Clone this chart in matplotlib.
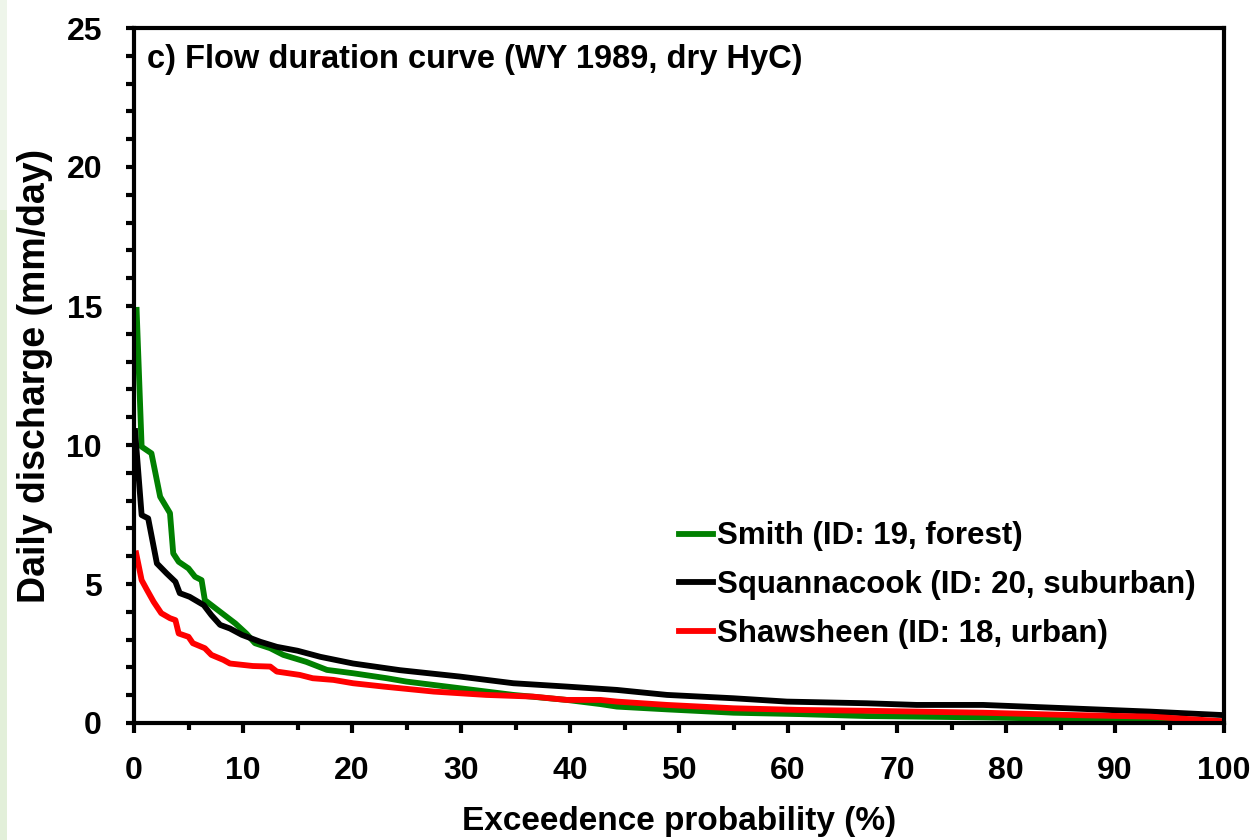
import matplotlib
matplotlib.use("Agg")
import matplotlib.pyplot as plt
from matplotlib.ticker import MultipleLocator
from matplotlib.patches import Rectangle

# Exceedance probability (%) and daily discharge (mm/day)
smith_x = [0.24, 0.7, 1.6, 2.4, 3.3, 3.6, 4.1, 5.0, 5.6, 6.2, 6.5, 7.3, 8.3, 9.3, 10.3, 11.1,
           12.5, 13.7, 15.8, 17.7, 20.1, 23.2, 25.0, 29.9, 34.8, 39.7, 42.8, 44.3, 48.9, 55.0,
           61.1, 67.2, 71.8, 78.0, 85.0, 93.0, 100.0]
smith_y = [14.86, 9.94, 9.7, 8.14, 7.55, 6.1, 5.8, 5.56, 5.26, 5.14, 4.42, 4.18, 3.88, 3.58, 3.22, 2.87,
           2.69, 2.45, 2.2, 1.91, 1.79, 1.61, 1.49, 1.25, 1.01, 0.83, 0.68, 0.59, 0.49, 0.37,
           0.32, 0.25, 0.23, 0.2, 0.15, 0.1, 0.05]

squan_x = [0.1, 0.7, 1.3, 2.1, 3.0, 3.8, 4.2, 5.1, 6.4, 7.1, 7.9, 8.8, 9.9, 11.6, 13.1, 15.0,
           17.1, 20.1, 24.4, 29.9, 34.8, 39.7, 44.3, 48.9, 55.0, 59.9, 67.2, 71.8, 77.9, 85.6,
           93.2, 99.6]
squan_y = [10.5, 7.48, 7.36, 5.74, 5.38, 5.08, 4.67, 4.54, 4.24, 3.88, 3.53, 3.4, 3.17, 2.92, 2.74, 2.6,
           2.38, 2.14, 1.9, 1.67, 1.43, 1.31, 1.19, 1.01, 0.89, 0.77, 0.71, 0.65, 0.65, 0.53,
           0.41, 0.29]

shaw_x = [0.2, 0.7, 1.2, 1.8, 2.5, 3.3, 3.8, 4.1, 5.0, 5.4, 6.5, 7.1, 8.2, 8.8, 10.9, 12.5,
          13.1, 15.2, 16.4, 18.3, 20.1, 22.9, 27.5, 32.3, 36.6, 39.7, 42.8, 44.3, 48.9, 55.0,
          61.1, 67.2, 71.8, 77.9, 85.6, 93.2, 99.6]
shaw_y = [6.1, 5.14, 4.78, 4.36, 3.95, 3.77, 3.7, 3.22, 3.1, 2.87, 2.69, 2.45, 2.27, 2.14, 2.05, 2.03,
          1.85, 1.73, 1.61, 1.55, 1.43, 1.31, 1.13, 1.01, 0.95, 0.83, 0.83, 0.77, 0.65, 0.53,
          0.47, 0.44, 0.41, 0.37, 0.29, 0.23, 0.07]

labels = ["Smith (ID: 19, forest)", "Squannacook (ID: 20, suburban)", "Shawsheen (ID: 18, urban)"]
colors = ["#008000", "#000000", "#ff0000"]

FONT = ["Liberation Sans Narrow", "Liberation Sans", "DejaVu Sans"]
plt.rcParams['font.family'] = FONT
plt.rcParams['font.weight'] = 'bold'

fig = plt.figure(figsize=(12.59, 8.40), dpi=100)
fig.patches.append(Rectangle((0, 0), 7 / 1259, 630 / 840, transform=fig.transFigure,
                             facecolor="#e2efd9", edgecolor="none", zorder=0))
fig.patches.append(Rectangle((0, 630 / 840), 7 / 1259, 210 / 840, transform=fig.transFigure,
                             facecolor="#eef5ea", edgecolor="none", zorder=0))

ax = fig.add_axes([134 / 1259, 1 - 723 / 840, (1224 - 134) / 1259, (723 - 28) / 840])

LW = 4.2
ax.plot(smith_x, smith_y, color=colors[0], lw=LW, label=labels[0], solid_joinstyle='round')
ax.plot(squan_x, squan_y, color=colors[1], lw=LW, label=labels[1], solid_joinstyle='round')
ax.plot(shaw_x, shaw_y, color=colors[2], lw=LW, label=labels[2], solid_joinstyle='round')

ax.set_xlim(0, 100)
ax.set_ylim(0, 25)
ax.xaxis.set_major_locator(MultipleLocator(10))
ax.xaxis.set_minor_locator(MultipleLocator(5))
ax.yaxis.set_major_locator(MultipleLocator(5))
ax.yaxis.set_minor_locator(MultipleLocator(1))

for s in ax.spines.values():
    s.set_linewidth(3)
ax.tick_params(axis='both', which='both', direction='out', width=3, top=False, right=False)
ax.tick_params(axis='x', which='major', length=7, pad=17, labelsize=23)
ax.tick_params(axis='x', which='minor', length=5)
ax.tick_params(axis='y', which='major', length=6, pad=17, labelsize=23)
ax.tick_params(axis='y', which='minor', length=6)
for lab in ax.get_xticklabels() + ax.get_yticklabels():
    lab.set_fontweight('bold')

ax.set_xlabel("Exceedence probability (%)", fontsize=24, fontweight='bold', labelpad=14)
ax.set_ylabel("Daily discharge (mm/day)", fontsize=27, fontweight='bold', labelpad=10)

ax.text(0.012, 0.977, "c) Flow duration curve (WY 1989, dry HyC)", transform=ax.transAxes,
        fontsize=23.5, fontweight='bold', va='top', ha='left')

leg = ax.legend(loc='upper left', bbox_to_anchor=(0.50, 0.29), frameon=False,
                handlelength=1.1, handletextpad=0.12, labelspacing=0.6,
                borderaxespad=0, borderpad=0, prop={'weight': 'bold', 'size': 22.5})
for l in leg.get_lines():
    l.set_linewidth(LW)

fig.savefig("out.png", dpi=100)
